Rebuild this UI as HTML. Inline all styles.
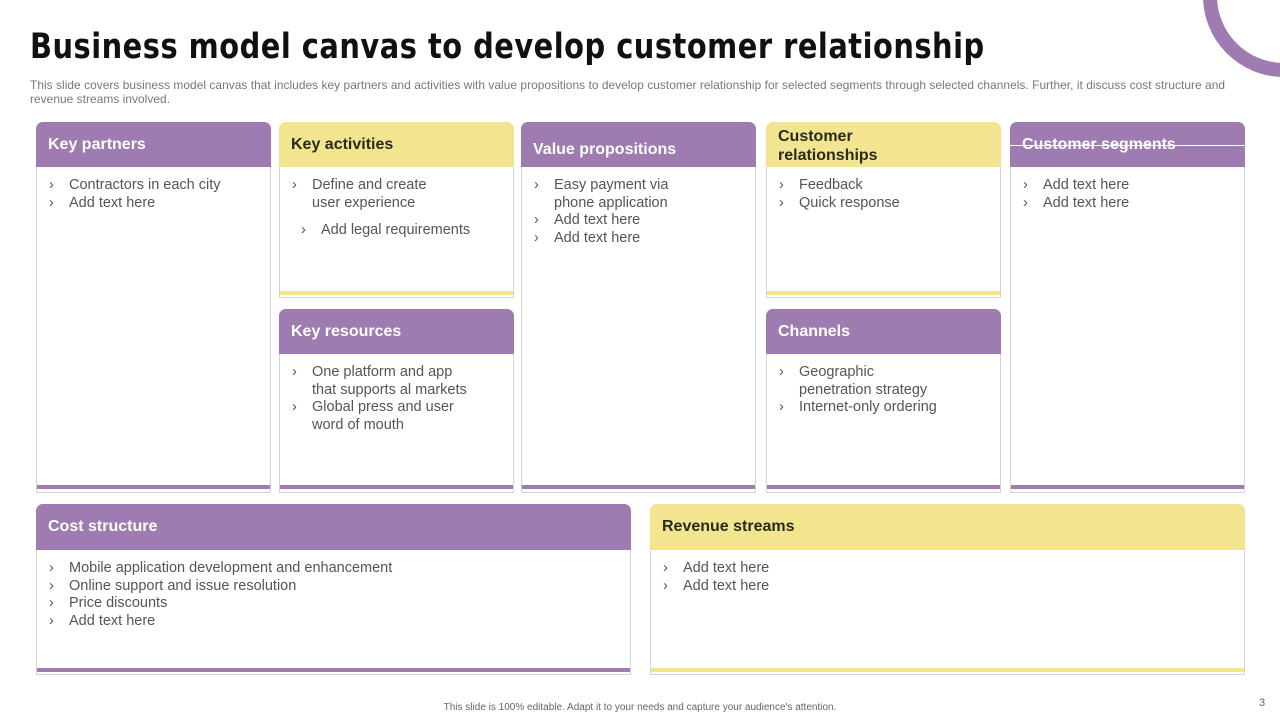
<!DOCTYPE html>
<html><head><meta charset="utf-8"><style>
*{margin:0;padding:0;box-sizing:border-box}
body{width:1280px;height:720px;position:relative;background:#fff;font-family:"Liberation Sans",sans-serif;overflow:hidden}
.t{position:absolute;left:30px;top:27px;font-size:35px;letter-spacing:0.6px;color:#111;font-family:"DejaVu Sans","Liberation Sans",sans-serif;font-weight:bold;white-space:nowrap;transform:scaleX(0.825);transform-origin:left}
.sub{position:absolute;left:30px;top:78px;width:1212px;font-size:11.9px;line-height:14px;color:#777;letter-spacing:0.05px}
.box{position:absolute;border:1px solid #d4d4d4;border-top:none;border-radius:7px 7px 0 0;background:#fff}
.hd{position:absolute;left:-1px;right:-1px;top:0;height:45px;border-radius:7px 7px 0 0;font-weight:bold;font-size:16px;padding-left:12px;line-height:18px}
.P{background:#9e7bb0;color:#fff}
.Y{background:#f3e58f;color:#2a2a1a}
.bar{position:absolute;left:0;right:0;height:4px}
.bP{background:#9e7bb0}.bY{background:#f3e58f}
.ul{position:absolute;left:12px;top:10px;font-size:14.5px;color:#555;line-height:17.7px}
.li{position:relative;padding-left:20px}
.li:before{content:"›";position:absolute;left:0;top:0}
.foot{position:absolute;top:702px;left:0;width:1280px;text-align:center;font-size:10px;color:#666}
</style></head><body>
<svg style="position:absolute;left:0;top:0" width="1280" height="720"><circle cx="1284" cy="-4" r="74" fill="none" stroke="#9e7bb0" stroke-width="14"/></svg>
<div class="t">Business model canvas to develop customer relationship</div>
<div class="sub">This slide covers business model canvas that includes key partners and activities with value propositions to develop customer relationship for selected segments through selected channels. Further, it discuss cost structure and revenue streams involved.</div>

<div class="box" style="left:36px;top:122px;width:235px;height:371px"><div class="hd P" style="padding-top:14px">Key partners</div>
<div class="ul" style="top:55px"><div class="li">Contractors in each city</div><div class="li">Add text here</div></div>
<div class="bar bP" style="top:363px"></div></div>

<div class="box" style="left:279px;top:122px;width:235px;height:176px"><div class="hd Y" style="padding-top:14px">Key activities</div>
<div class="ul" style="top:55px"><div class="li">Define and create<br>user experience</div><div class="li" style="margin:10px 0 0 9px">Add legal requirements</div></div>
<div class="bar bY" style="top:169px"></div></div>

<div class="box" style="left:279px;top:309px;width:235px;height:184px"><div class="hd P" style="padding-top:14px">Key resources</div>
<div class="ul" style="top:55px"><div class="li">One platform and app<br>that supports al markets</div><div class="li">Global press and user<br>word of mouth</div></div>
<div class="bar bP" style="top:176px"></div></div>

<div class="box" style="left:521px;top:122px;width:235px;height:371px"><div class="hd P" style="padding-top:19px">Value propositions</div>
<div class="ul" style="top:55px"><div class="li">Easy payment via<br>phone application</div><div class="li">Add text here</div><div class="li">Add text here</div></div>
<div class="bar bP" style="top:363px"></div></div>

<div class="box" style="left:766px;top:122px;width:235px;height:176px"><div class="hd Y" style="padding-top:5px;line-height:19px">Customer<br>relationships</div>
<div class="ul" style="top:55px"><div class="li">Feedback</div><div class="li">Quick response</div></div>
<div class="bar bY" style="top:169px"></div></div>

<div class="box" style="left:766px;top:309px;width:235px;height:184px"><div class="hd P" style="padding-top:14px">Channels</div>
<div class="ul" style="top:55px"><div class="li">Geographic<br>penetration strategy</div><div class="li">Internet-only ordering</div></div>
<div class="bar bP" style="top:176px"></div></div>

<div class="box" style="left:1010px;top:122px;width:235px;height:371px"><div class="hd P" style="padding-top:14px">Customer segments<div style="position:absolute;left:0;right:0;top:23px;height:1px;background:#fff"></div></div>
<div class="ul" style="top:55px"><div class="li">Add text here</div><div class="li">Add text here</div></div>
<div class="bar bP" style="top:363px"></div></div>

<div class="box" style="left:36px;top:504px;width:595px;height:171px"><div class="hd P" style="padding-top:14px;height:46px">Cost structure</div>
<div class="ul" style="top:56px"><div class="li">Mobile application development and enhancement</div><div class="li">Online support and issue resolution</div><div class="li">Price discounts</div><div class="li">Add text here</div></div>
<div class="bar bP" style="top:164px"></div></div>

<div class="box" style="left:650px;top:504px;width:595px;height:171px"><div class="hd Y" style="padding-top:14px;height:46px">Revenue streams</div>
<div class="ul" style="top:56px"><div class="li">Add text here</div><div class="li">Add text here</div></div>
<div class="bar bY" style="top:164px"></div></div>

<div class="foot">This slide is 100% editable. Adapt it to your needs and capture your audience's attention.</div>
<div style="position:absolute;left:1259px;top:697px;font-size:11px;color:#666">3</div>
</body></html>
